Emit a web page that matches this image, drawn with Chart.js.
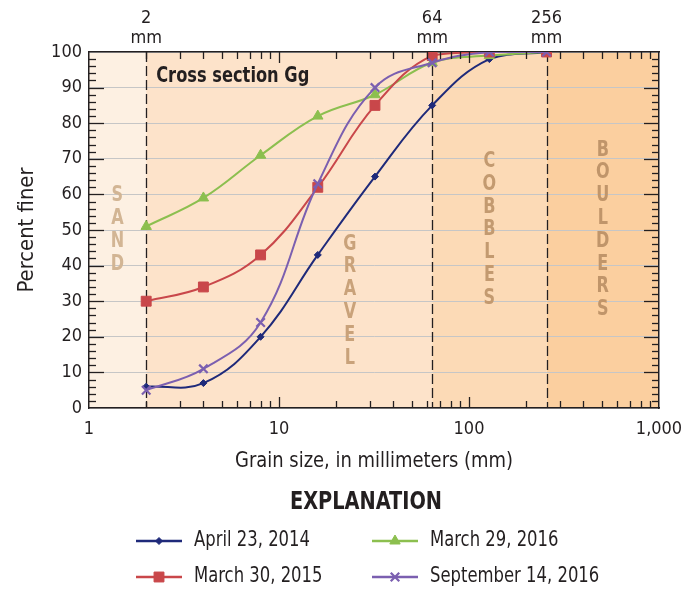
<!DOCTYPE html>
<html><head><meta charset="utf-8">
<script src="https://cdn.jsdelivr.net/npm/chart.js@4/dist/chart.umd.min.js"></script>
<style>html,body{margin:0;padding:0;background:#fff;}#wrap{width:689px;height:591px;position:relative;}canvas{display:block;}</style>
</head><body><div id="wrap"><canvas id="c" width="689" height="591"></canvas></div>
<script>
// ---- data ----
const grainSizes = [2, 4, 8, 16, 32, 64, 128, 256];
const april2014 = [6, 7, 20, 43, 65, 85, 98, 100];
const march2015 = [30, 34, 43, 62, 85, 99, 100, 100];
const march2016 = [51, 59, 71, 82, 88, 97, 99, 100];
const sept2016 = [5, 11, 24, 63, 90, 97, 100, 100];
const seriesLabels = ['April 23, 2014', 'March 30, 2015', 'March 29, 2016', 'September 14, 2016'];
const xTickValues = [1, 10, 100, 1000];
const xTickLabels = ['1', '10', '100', '1,000'];
const boundaryValues = [2, 64, 256];
const boundaryLabels = [['2', 'mm'], ['64', 'mm'], ['256', 'mm']];
const yTickValues = [0, 10, 20, 30, 40, 50, 60, 70, 80, 90, 100];
const classNames = ['SAND', 'GRAVEL', 'COBBLES', 'BOULDERS'];
const classRanges = [[1, 2], [2, 64], [64, 256], [256, 1000]];
const titleText = 'Cross section Gg';
const xTitle = 'Grain size, in millimeters (mm)';
const yTitle = 'Percent finer';
const legendTitle = 'EXPLANATION';

// ---- styles ----
const FONT = '"DejaVu Sans Condensed", "Liberation Sans", sans-serif';
const INK = '#231f20';
const bandColors = ['#fdf0e2', '#fde3ca', '#fcdab6', '#fbcf9f'];
const classLabelAnchor = [[1.41, 50], [23.6, 30], [128, 50], [506, 50]];
const classColor = ['#d2b594', '#c9a27a', '#c39a70', '#c0956a'];

const colors = ['#1f2a7a', '#c9474a', '#8cbf4f', '#7b5fb0'];
const styles = [
  {pointStyle: 'rectRot', radius: 3.5, bw: 1},
  {pointStyle: 'rect', radius: 7, bw: 1},
  {pointStyle: 'triangle', radius: 6, bw: 1},
  {pointStyle: 'crossRot', radius: 6, bw: 2.2}
];
const allSeries = [april2014, march2015, march2016, sept2016];
const orders = [3, 1, 2, 0];

const datasets = allSeries.map((vals, i) => ({
  label: seriesLabels[i],
  data: grainSizes.map((g, j) => ({x: g, y: vals[j]})),
  borderColor: colors[i],
  backgroundColor: colors[i],
  borderWidth: 2,
  tension: 0.4,
  pointStyle: styles[i].pointStyle,
  pointRadius: styles[i].radius,
  pointBorderWidth: styles[i].bw,
  pointBackgroundColor: colors[i],
  pointBorderColor: colors[i],
  order: orders[i],
  xAxisID: 'x',
  yAxisID: 'y'
}));

function txt(ctx, s, x, y, font, align, sx) {
  ctx.save();
  ctx.font = font;
  ctx.textAlign = align;
  ctx.textBaseline = 'middle';
  ctx.translate(x, y);
  ctx.scale(sx, 1);
  ctx.fillText(s, 0, 0);
  ctx.restore();
}

const decor = {
  id: 'decor',
  beforeDraw(chart) {
    const {ctx, chartArea: a, scales} = chart;
    const xs = scales.x;
    ctx.save();
    classRanges.forEach((r, i) => {
      const x0 = xs.getPixelForValue(r[0]), x1 = xs.getPixelForValue(r[1]);
      ctx.fillStyle = bandColors[i];
      ctx.fillRect(x0, a.top, x1 - x0, a.bottom - a.top);
    });
    ctx.restore();
  },
  beforeDatasetsDraw(chart) {
    const {ctx, chartArea: a, scales} = chart;
    const xs = scales.x, ys = scales.y;
    ctx.save();
    ctx.strokeStyle = INK;
    ctx.lineWidth = 1.3;
    ctx.setLineDash([10, 4]);
    boundaryValues.forEach(v => {
      const x = Math.round(xs.getPixelForValue(v)) + 0.5;
      ctx.beginPath(); ctx.moveTo(x, a.top); ctx.lineTo(x, a.bottom); ctx.stroke();
    });
    ctx.setLineDash([]);
    const step = 22.8;
    classNames.forEach((name, i) => {
      const cx = xs.getPixelForValue(classLabelAnchor[i][0]);
      const cy = ys.getPixelForValue(classLabelAnchor[i][1]);
      const n = name.length;
      ctx.fillStyle = classColor[i];
      for (let k = 0; k < n; k++) {
        txt(ctx, name[k], cx, cy + (k - (n - 1) / 2) * step, 'bold 21px ' + FONT, 'center', 0.85);
      }
    });
    ctx.fillStyle = INK;
    txt(ctx, titleText, xs.getPixelForValue(2) + 10, 77, 'bold 21px ' + FONT, 'left', 0.86);
    ctx.restore();
  },
  afterDraw(chart) {
    const {ctx, chartArea: a, scales} = chart;
    const xs = scales.x, ys = scales.y;
    ctx.save();
    ctx.strokeStyle = INK;
    ctx.lineWidth = 1.3;
    for (let d = 0; d < 3; d++) {
      for (let m = 2; m <= 10; m++) {
        const v = m * Math.pow(10, d);
        if (v >= 1000) continue;
        const x = Math.round(xs.getPixelForValue(v)) + 0.5;
        const len = (m === 10) ? 11 : 7;
        ctx.beginPath(); ctx.moveTo(x, a.bottom); ctx.lineTo(x, a.bottom - len); ctx.stroke();
        ctx.beginPath(); ctx.moveTo(x, a.top); ctx.lineTo(x, a.top + len); ctx.stroke();
      }
    }
    for (let v = 2; v < 100; v += 2) {
      const y = Math.round(ys.getPixelForValue(v)) + 0.5;
      const len = (v % 10 === 0) ? 15 : 7;
      ctx.beginPath(); ctx.moveTo(a.left, y); ctx.lineTo(a.left + len, y); ctx.stroke();
      ctx.beginPath(); ctx.moveTo(a.right, y); ctx.lineTo(a.right - len, y); ctx.stroke();
    }
    ctx.fillStyle = INK;
    txt(ctx, xTitle, 374, 462, '21px ' + FONT, 'center', 0.95);
    ctx.save();
    ctx.translate(28, (a.top + a.bottom) / 2);
    ctx.rotate(-Math.PI / 2);
    txt(ctx, yTitle, 0, 0, '21px ' + FONT, 'center', 1.04);
    ctx.restore();
    txt(ctx, legendTitle, 366, 502, 'bold 25px ' + FONT, 'center', 0.86);
    const pos = [[136, 541], [136, 577], [372, 541], [372, 577]];
    chart.data.datasets.forEach((ds, i) => {
      const [lx, ly] = pos[i];
      ctx.strokeStyle = ds.borderColor;
      ctx.lineWidth = 2.5;
      ctx.beginPath(); ctx.moveTo(lx, ly); ctx.lineTo(lx + 46, ly); ctx.stroke();
      ctx.fillStyle = ds.pointBackgroundColor;
      ctx.strokeStyle = ds.pointBorderColor;
      ctx.lineWidth = ds.pointBorderWidth;
      Chart.helpers.drawPoint(ctx, {pointStyle: ds.pointStyle, radius: ds.pointRadius, rotation: 0, borderWidth: ds.pointBorderWidth}, lx + 23, ly);
      ctx.fillStyle = INK;
      txt(ctx, ds.label, lx + 58, ly, '21px ' + FONT, 'left', 0.87);
    });
    ctx.restore();
  }
};

Chart.defaults.font.family = FONT;
Chart.defaults.color = INK;

const noSidePad = s => { s.paddingLeft = 0; s.paddingRight = 0; };

new Chart(document.getElementById('c'), {
  type: 'line',
  data: {datasets},
  options: {
    responsive: false,
    animation: false,
    layout: {padding: {left: 0, right: 30, top: 0, bottom: 0}},
    plugins: {legend: {display: false}, tooltip: {enabled: false}},
    scales: {
      x: {
        type: 'logarithmic', position: 'bottom', min: 1, max: 1000,
        afterBuildTicks: s => { s.ticks = xTickValues.map(v => ({value: v})); },
        afterFit: s => { s.height = 183; noSidePad(s); },
        ticks: {autoSkip: false, maxRotation: 0, padding: 11, font: {size: 18},
          callback: v => xTickLabels[xTickValues.indexOf(v)]},
        grid: {display: false, drawTicks: false},
        border: {display: true, color: INK, width: 1.5}
      },
      x2: {
        type: 'logarithmic', position: 'top', min: 1, max: 1000,
        afterBuildTicks: s => { s.ticks = boundaryValues.map(v => ({value: v})); },
        afterFit: s => { s.height = 52; noSidePad(s); },
        ticks: {autoSkip: false, maxRotation: 0, padding: 3, font: {size: 18, lineHeight: 1.15},
          callback: v => boundaryLabels[boundaryValues.indexOf(v)]},
        grid: {display: false, drawTicks: false},
        border: {display: true, color: INK, width: 1.5}
      },
      y: {
        position: 'left', min: 0, max: 100,
        afterBuildTicks: s => { s.ticks = yTickValues.map(v => ({value: v})); },
        afterFit: s => { s.width = 89; s.paddingTop = 0; s.paddingBottom = 0; },
        ticks: {padding: 7, font: {size: 18}},
        grid: {color: '#c6c6c6', lineWidth: 1, drawTicks: false},
        border: {display: true, color: INK, width: 1.5}
      },
      y2: {
        position: 'right', min: 0, max: 100,
        afterFit: s => { s.width = 0; },
        ticks: {display: false},
        grid: {display: false, drawTicks: false},
        border: {display: true, color: INK, width: 1.5}
      }
    }
  },
  plugins: [decor]
});
</script>
</body></html>
